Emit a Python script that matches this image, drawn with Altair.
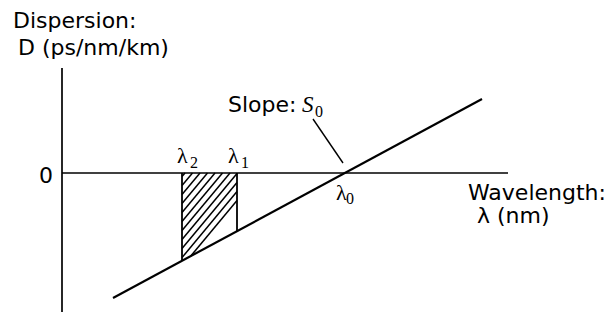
import altair as alt
import pandas as pd
import numpy as np

# ---- values (units: px-sized, origin at axes crossing) ----
line_lambda = [51, 420]
line_D = [-125, 74]

d_axis_top = 105
d_axis_bottom = -139
lam_axis_end = 446

lambda2 = 120
lambda1 = 175
lambda0 = 283

slope_ptr_lambda = [251, 281]
slope_ptr_D = [54, 10]

hatch_slope = 1.2
hatch_step = 7.5

sans_labels = ["Dispersion:", "D (ps/nm/km)", "Wavelength:", "\u03bb (nm)", "Slope:"]
sans_lam = [-49, -44, 406, 415, 166]
sans_D = [145, 118, -27, -50, 61]

zero_label = ["0"]
zero_lam = [-9]
zero_D = [-10]

greek_labels = ["\u03bb", "\u03bb", "\u03bb"]
greek_lam = [115, 166, 274]
greek_D = [10, 10, -27]

sub_labels = ["2", "1", "0", "0"]
sub_lam = [128, 179, 284, 253]
sub_D = [5, 5, -31, 56]

s_label = ["S"]
s_lam = [240]
s_D = [61]

XDOM = [-54, 544]
YDOM = [-139, 165]

x = lambda f="lam": alt.X(f"{f}:Q", scale=alt.Scale(domain=XDOM, nice=False, zero=False), axis=None)
y = lambda f="D": alt.Y(f"{f}:Q", scale=alt.Scale(domain=YDOM, nice=False, zero=False), axis=None)

# main line
main_df = pd.DataFrame({"lam": line_lambda, "D": line_D})
main = alt.Chart(main_df).mark_line(color="black", strokeWidth=2.2).encode(x=x(), y=y(), order="lam:Q")

# axes
axes_df = pd.DataFrame({
    "lam": [0, 0, 0, lam_axis_end],
    "D": [d_axis_top, d_axis_bottom, 0, 0],
    "seg": ["v", "v", "h", "h"],
})
axes = alt.Chart(axes_df).mark_line(color="black", strokeWidth=1.7).encode(x=x(), y=y(), detail="seg:N")

# hatched region (bounded by lambda2, lambda1, D=0 and the dispersion line)
L2 = float(np.interp(lambda2, line_lambda, line_D))
L1 = float(np.interp(lambda1, line_lambda, line_D))
b = (L1 - L2) / (lambda1 - lambda2)
a = L2 - b * lambda2
rows = []
c = lambda2 + 3
cmax = lambda2 - L2 / hatch_slope + 5
k = 0
while c < cmax:
    lo = max(lambda2, (a + hatch_slope * c) / (hatch_slope - b))
    hi = min(lambda1, c)
    if lo < hi:
        rows.append({"lam": lo, "D": hatch_slope * (lo - c), "seg": k})
        rows.append({"lam": hi, "D": hatch_slope * (hi - c), "seg": k})
    k += 1
    c += hatch_step
hatch_df = pd.DataFrame(rows)
hatch = alt.Chart(hatch_df).mark_line(color="black", strokeWidth=1.5).encode(x=x(), y=y(), detail="seg:N")

edges_df = pd.DataFrame({
    "lam": [lambda2, lambda2, lambda1, lambda1],
    "D": [0, L2, 0, L1],
    "seg": ["a", "a", "b", "b"],
})
edges = alt.Chart(edges_df).mark_line(color="black", strokeWidth=1.8).encode(x=x(), y=y(), detail="seg:N")

ptr_df = pd.DataFrame({"lam": slope_ptr_lambda, "D": slope_ptr_D})
ptr = alt.Chart(ptr_df).mark_line(color="black", strokeWidth=1.4).encode(x=x(), y=y())

# texts
def texts(labels, lams, Ds, **kw):
    df = pd.DataFrame({"lam": lams, "D": Ds, "t": labels})
    return alt.Chart(df).mark_text(baseline="alphabetic", color="black", **kw).encode(x=x(), y=y(), text="t:N")

t_sans = texts(sans_labels, sans_lam, sans_D, align="left", font="DejaVu Sans", fontSize=22)
t_zero = texts(zero_label, zero_lam, zero_D, align="right", font="DejaVu Sans", fontSize=22)
t_greek = texts(greek_labels, greek_lam, greek_D, align="left", font="Liberation Serif", fontSize=22)
t_sub = texts(sub_labels, sub_lam, sub_D, align="left", font="Liberation Serif", fontSize=16)
t_s = texts(s_label, s_lam, s_D, align="left", font="Liberation Serif", fontSize=23, fontStyle="italic")

chart = alt.layer(axes, hatch, edges, main, ptr, t_sans, t_zero, t_greek, t_sub, t_s).properties(
    width=598, height=304, padding=0, autosize=alt.AutoSizeParams(type="none"), background="white"
).configure_view(stroke=None)

chart.save("out.html", embed_options={"renderer": "svg", "actions": False})
